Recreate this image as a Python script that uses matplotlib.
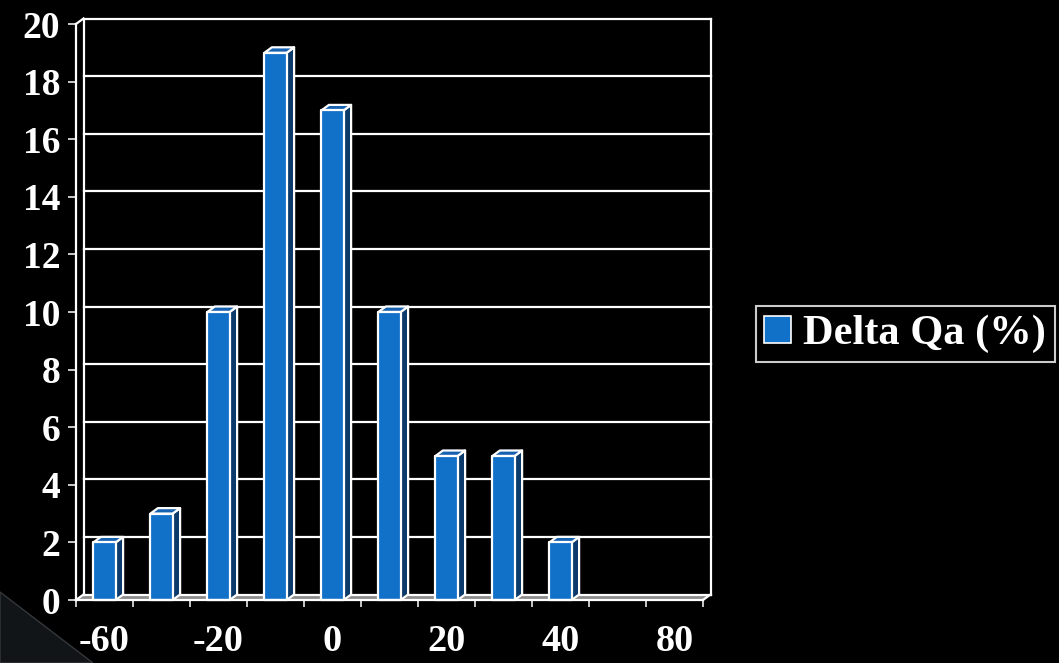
#!/usr/bin/env python
# Histogram of Delta Qa (%) drawn as a pseudo-3D column chart on black.

import numpy as np
import matplotlib
matplotlib.use('Agg')
import matplotlib.pyplot as plt
from matplotlib.patches import Polygon, Rectangle, Patch

categories = ['-60', '-40', '-20', '-10', '0', '10', '20', '30', '40', '60', '80']
counts = [2, 3, 10, 19, 17, 10, 5, 5, 2, 0, 0]
yticks = np.arange(0, 21, 2)
series_name = 'Delta Qa (%)'

front_col = '#1170c8'
side_col = '#0b3a6b'
top_col = '#1662b0'
floor_col = '#8c8c8c'

font = {'family': 'Liberation Serif', 'weight': 'bold', 'size': 27}
matplotlib.rc('font', **font)

W, H, DPI = 1059, 663, 100
fig = plt.figure(figsize=(W / DPI, H / DPI), dpi=DPI, facecolor='black')
ax = fig.add_axes([76 / W, 63 / H, 627 / W, 576 / H])
ax.set_facecolor('none')
xmin, xmax = -0.5, len(categories) - 0.5
ax.set_xlim(xmin, xmax)
ax.set_ylim(0, 20)

# depth of the 3D box, converted from pixels to data units
depth_x_px, depth_y_px = 7.5, 5.5
bbox = ax.get_position()
dx = depth_x_px * (xmax - xmin) / (bbox.width * W)
dy = depth_y_px * 20 / (bbox.height * H)

lw = 1.6
# floor
ax.add_patch(Polygon([[xmin, 0], [xmax, 0], [xmax + dx, dy], [xmin + dx, dy]],
                     closed=True, facecolor=floor_col, edgecolor='none',
                     clip_on=False, zorder=1))
# back wall gridlines
for v in yticks:
    ax.plot([xmin + dx, xmax + dx], [v + dy, v + dy], color='white', lw=lw,
            clip_on=False, zorder=2)
# back wall sides and left wall edges
ax.plot([xmin + dx, xmin + dx], [dy, 20 + dy], color='white', lw=lw, clip_on=False, zorder=2)
ax.plot([xmax + dx, xmax + dx], [dy, 20 + dy], color='white', lw=lw, clip_on=False, zorder=2)
ax.plot([xmin, xmin + dx], [20, 20 + dy], color='white', lw=lw, clip_on=False, zorder=2)
ax.plot([xmin, xmin + dx], [0, dy], color='white', lw=lw, clip_on=False, zorder=2)
ax.plot([xmax, xmax + dx], [0, dy], color='white', lw=lw, clip_on=False, zorder=2)

# columns
bw = 0.39
for i, v in enumerate(counts):
    if v <= 0:
        continue
    x0, x1 = i - bw / 2, i + bw / 2
    ax.add_patch(Polygon([[x1, 0], [x1 + dx, dy], [x1 + dx, v + dy], [x1, v]],
                         closed=True, facecolor=side_col, edgecolor='white',
                         lw=lw, joinstyle='round', zorder=3, clip_on=False))
    ax.add_patch(Polygon([[x0, v], [x0 + dx, v + dy], [x1 + dx, v + dy], [x1, v]],
                         closed=True, facecolor=top_col, edgecolor='white',
                         lw=lw, joinstyle='round', zorder=3, clip_on=False))
    ax.add_patch(Rectangle((x0, 0), bw, v, facecolor=front_col, edgecolor='white',
                           lw=lw, joinstyle='round', zorder=4, clip_on=False))

for side in ('top', 'right'):
    ax.spines[side].set_visible(False)
for side in ('left', 'bottom'):
    ax.spines[side].set_color('white')
    ax.spines[side].set_linewidth(lw)
    ax.spines[side].set_zorder(5)

ax.set_yticks(yticks)
ax.set_yticklabels([str(v) for v in yticks])
ax.tick_params(axis='y', colors='white', length=5.8, width=1.1, pad=5.5)

ax.set_xticks(np.arange(xmin, xmax + 0.01, 1))
ax.set_xticklabels([])
ax.set_xticks(np.arange(0, len(categories), 2), minor=True)
ax.set_xticklabels(categories[::2], minor=True, fontsize=27.5)
ax.tick_params(axis='x', which='major', colors='white', length=5.0, width=1.1)
ax.tick_params(axis='x', which='minor', colors='white', length=0, pad=17)

leg = fig.legend(handles=[Patch(facecolor=front_col, edgecolor='white', lw=1.2)],
                 labels=[series_name], loc='center left',
                 bbox_to_anchor=(756 / W, 1 - 334 / H), fontsize=30.5,
                 frameon=True, fancybox=False, facecolor='black',
                 edgecolor='white', handlelength=0.62, handleheight=0.62,
                 handletextpad=0.3, borderpad=0.2, borderaxespad=0)
leg.get_frame().set_linewidth(1.5)
for t in leg.get_texts():
    t.set_color('white')

# slide corner decoration
fig.patches.append(Polygon([[0, 1 - 592 / H], [93 / W, 0], [0, 0]], closed=True,
                           transform=fig.transFigure, facecolor='#121517',
                           edgecolor='#34383b', lw=1.0, zorder=-1))

fig.savefig('out.png', dpi=DPI, facecolor='black')
